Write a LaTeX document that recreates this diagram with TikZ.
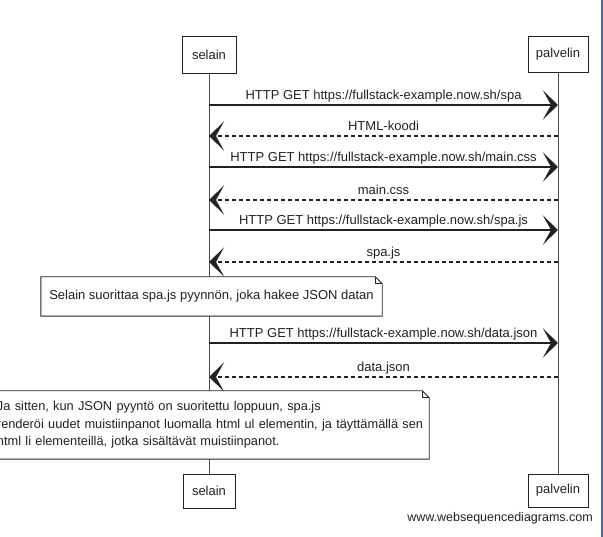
\documentclass[tikz,border=0pt]{standalone}
\usepackage{fontspec}
\setmainfont{Liberation Sans}
\usetikzlibrary{arrows.meta,positioning,calc}
\definecolor{ink}{HTML}{222222}
\definecolor{edgeblue}{HTML}{2F6FC0}

\begin{document}
\begin{tikzpicture}[
    x=1pt, y=-1pt,
    font=\fontsize{13}{17.5}\selectfont,
    text=ink,
    actor/.style={
        draw=ink, fill=white, line width=0.9pt,
        minimum width=54pt, minimum height=37pt,
        inner sep=2pt
    },
    lifeline/.style={
        draw=ink!80, line width=0.9pt
    },
    msg/.style={
        -{Stealth[length=15pt, width=29pt, inset=8pt]}, line width=1.1pt, draw=ink
    },
    reply/.style={
        msg, dash pattern=on 4pt off 3pt
    },
    arrowlabel/.style={
        midway, anchor=base, yshift=5pt, inner sep=0pt
    },
    note/.style={
        fill=white, inner sep=6pt
    },
    noteedge/.style={
        draw=ink, line width=0.9pt, line join=round
    }
]

% --- page size and right frame edge ---
\useasboundingbox (0,0) rectangle (603,537);
\fill[white] (0,0) rectangle (603,537);
\fill[edgeblue] (600.5,0) rectangle (603,537);

% --- participants, top and bottom ---
\node[actor] (selainTop) at (209,54.5) {selain};
\node[actor, minimum width=60pt, minimum height=36pt] (palvelinTop) at (558,54) {palvelin};
\node[actor, minimum width=52pt, minimum height=34pt] (selainBot) at (209,491) {selain};
\node[actor, minimum width=60pt, minimum height=33pt] (palvelinBot) at (558,490.5) {palvelin};

% --- lifelines ---
\draw[lifeline] (selainTop) -- (selainBot);
\draw[lifeline] (palvelinTop) -- (palvelinBot);

% --- message levels on both lifelines ---
\foreach \i/\y in {1/105, 2/136, 3/167, 4/200, 5/230, 6/262, 7/343, 8/377} {
    \coordinate (s\i) at (selainTop |- 0,\y);
    \coordinate (p\i) at (palvelinTop |- 0,\y);
}

% --- requests and replies ---
\draw[msg] (s1) -- node[arrowlabel]{HTTP GET https://fullstack-example.now.sh/spa} (p1);
\draw[reply] (p2) -- node[arrowlabel]{HTML-koodi} (s2);
\draw[msg] (s3) -- node[arrowlabel]{HTTP GET https://fullstack-example.now.sh/main.css} (p3);
\draw[reply] (p4) -- node[arrowlabel]{main.css} (s4);
\draw[msg] (s5) -- node[arrowlabel]{HTTP GET https://fullstack-example.now.sh/spa.js} (p5);
\draw[reply] (p6) -- node[arrowlabel]{spa.js} (s6);

% --- first note ---
\node[note, minimum width=341pt, minimum height=39pt] (runNote) at (211.5,296.5)
  {Selain suorittaa spa.js pyynnön, joka hakee JSON datan};
\draw[noteedge] (runNote.north west) -- ([xshift=-7pt]runNote.north east)
  -- ([yshift=-7pt]runNote.north east) -- (runNote.south east)
  -- (runNote.south west) -- cycle;
\draw[noteedge, line width=0.6pt] ([xshift=-7pt]runNote.north east) |- ([yshift=-7pt]runNote.north east);

\draw[msg] (s7) -- node[arrowlabel]{HTTP GET https://fullstack-example.now.sh/data.json} (p7);
\draw[reply] (p8) -- node[arrowlabel]{data.json} (s8);

% --- second note, runs past the left edge ---
\node[note, font=\fontsize{12.8}{17.5}\selectfont, inner xsep=0pt, minimum height=68pt,
      text width=432pt, align=left] (renderNote) at (213,425)
  {Ja sitten, kun JSON pyyntö on suoritettu loppuun, spa.js\\
   renderöi uudet muistiinpanot luomalla html ul elementin, ja täyttämällä sen\\
   html li elementeillä, jotka sisältävät muistiinpanot.};
\draw[noteedge] (renderNote.north west) -- ([xshift=-7pt]renderNote.north east)
  -- ([yshift=-7pt]renderNote.north east) -- (renderNote.south east)
  -- (renderNote.south west) -- cycle;
\draw[noteedge, line width=0.6pt] ([xshift=-7pt]renderNote.north east) |- ([yshift=-7pt]renderNote.north east);

% --- watermark ---
\node[font=\fontsize{12.5}{14}\selectfont, anchor=east, inner sep=0pt] (wsdMark) at (593,518)
  {www.websequencediagrams.com};

\end{tikzpicture}
\end{document}
